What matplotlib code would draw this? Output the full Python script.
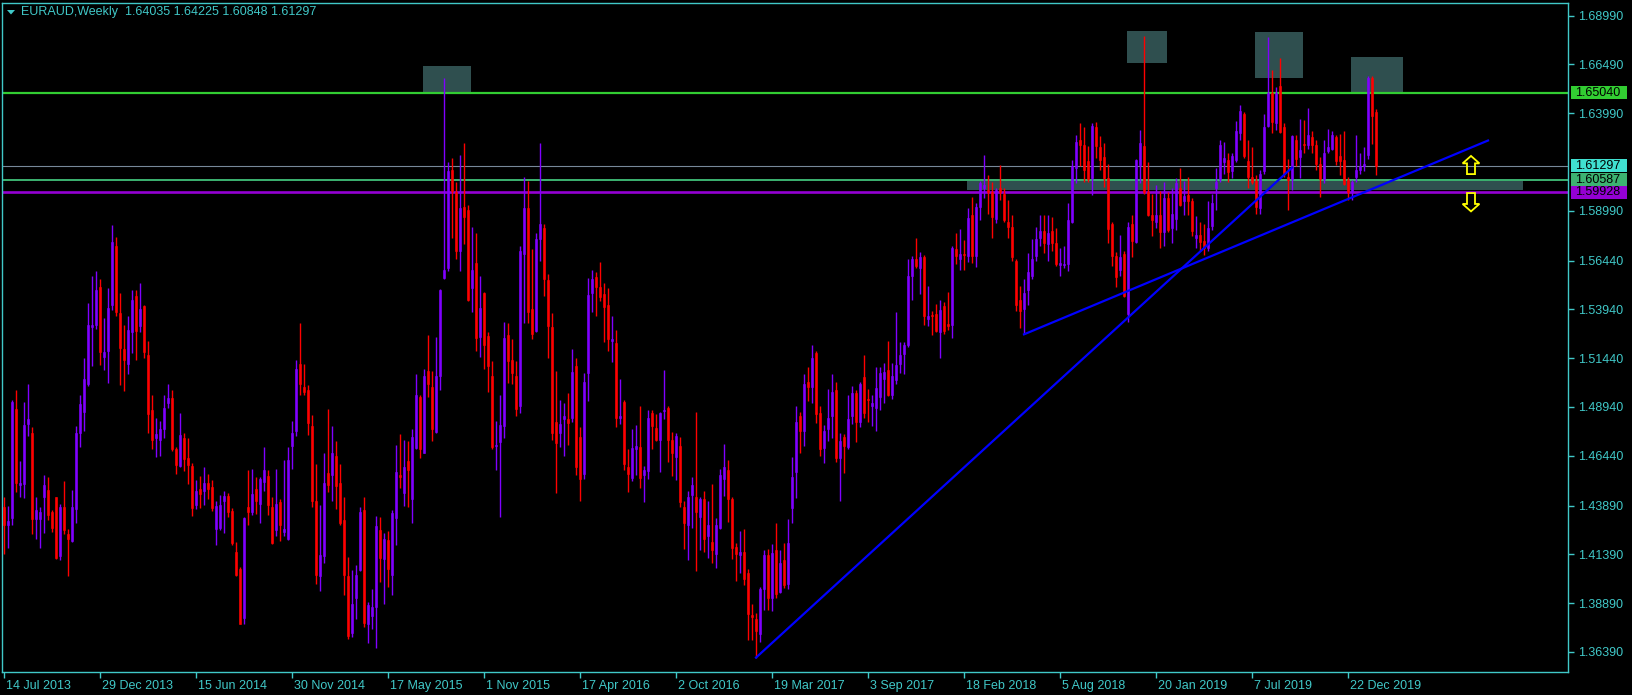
import numpy as np
import matplotlib
matplotlib.use("Agg")
import matplotlib.pyplot as plt
import matplotlib.patches as mpatches
import matplotlib.transforms as mtransforms

plt.rcParams["font.family"] = ["Liberation Sans", "DejaVu Sans"]

# ── Data (weekly EURAUD candles, week 0 = 14 Jul 2013) ─────────────────────────
header_text = "EURAUD,Weekly  1.64035 1.64225 1.60848 1.61297"

opens = [
    1.4383, 1.4287, 1.4327, 1.4886, 1.4493, 1.4499, 1.4808, 1.4763, 1.4321, 1.4321,
    1.4432, 1.4470, 1.4354, 1.4432, 1.4131, 1.4383, 1.4242, 1.4209, 1.4370, 1.4763,
    1.4866, 1.5013, 1.5304, 1.5315, 1.5511, 1.5152, 1.5181, 1.5415, 1.5721, 1.5375,
    1.5192, 1.5114, 1.5277, 1.5460, 1.5308, 1.5409, 1.5158, 1.4879, 1.4734, 1.4727,
    1.4779, 1.4913, 1.4942, 1.4678, 1.4593, 1.4734, 1.4633, 1.4593, 1.4394, 1.4472,
    1.4466, 1.4504, 1.4484, 1.4271, 1.4276, 1.4410, 1.4437, 1.4361, 1.4153, 1.4064,
    1.3811, 1.4383, 1.4354, 1.4472, 1.4399, 1.4510, 1.4540, 1.4383, 1.4265, 1.4405,
    1.4254, 1.4220, 1.4694, 1.4772, 1.5114, 1.4995, 1.4980, 1.4794, 1.4414, 1.4030,
    1.4131, 1.4555, 1.4544, 1.4645, 1.4504, 1.4316, 1.4030, 1.3735, 1.3914, 1.4057,
    1.4365, 1.3784, 1.3822, 1.3867, 1.4265, 1.4115, 1.4213, 1.4035, 1.4327, 1.4544,
    1.4455, 1.4617, 1.4421, 1.4682, 1.4946, 1.4660, 1.5076, 1.4995, 1.4767, 1.5053,
    1.5554, 1.5605, 1.6108, 1.5996, 1.5694, 1.5916, 1.5902, 1.5505, 1.5632, 1.5254,
    1.5476, 1.5259, 1.5053, 1.4696, 1.4712, 1.4794, 1.5263, 1.5134, 1.5053, 1.4897,
    1.5679, 1.5911, 1.5397, 1.5281, 1.5755, 1.5813, 1.5542, 1.5304, 1.4817, 1.4763,
    1.4830, 1.4834, 1.4839, 1.5102, 1.4738, 1.4551, 1.5069, 1.5478, 1.5560, 1.5511,
    1.5471, 1.5415, 1.5232, 1.5221, 1.4839, 1.4917, 1.4589, 1.4528, 1.4678, 1.4689,
    1.4544, 1.4566, 1.4861, 1.4785, 1.4723, 1.4875, 1.4890, 1.4723, 1.4638, 1.4696,
    1.4383, 1.4287, 1.4443, 1.4432, 1.4332, 1.4421, 1.4231, 1.4204, 1.4142, 1.4276,
    1.4526, 1.4571, 1.4421, 1.4175, 1.4135, 1.4153, 1.4041, 1.3829, 1.3807, 1.3729,
    1.3959, 1.4137, 1.3914, 1.4160, 1.3945, 1.4108, 1.3985, 1.4376, 1.4561, 1.4846,
    1.4772, 1.5024, 1.4995, 1.5170, 1.4861, 1.4682, 1.4779, 1.4846, 1.4980, 1.4633,
    1.4741, 1.4689, 1.4846, 1.4964, 1.4817, 1.5046, 1.4935, 1.4897, 1.4890, 1.4946,
    1.5035, 1.5085, 1.4957, 1.5031, 1.5114, 1.5165, 1.5214, 1.5567, 1.5650, 1.5605,
    1.5661, 1.5343, 1.5366, 1.5371, 1.5277, 1.5411, 1.5321, 1.5315, 1.5701, 1.5650,
    1.5679, 1.5665, 1.5880, 1.5665, 1.5918, 1.6018, 1.6007, 1.5996, 1.5857, 1.6014,
    1.5985, 1.5844, 1.5817, 1.5643, 1.5442, 1.5397, 1.5493, 1.5567, 1.5665, 1.5761,
    1.5795, 1.5728, 1.5795, 1.5732, 1.5621, 1.5621, 1.5627, 1.5840, 1.6119, 1.6260,
    1.6237, 1.6152, 1.6068, 1.6327, 1.6224, 1.6175, 1.6068, 1.5829, 1.5665, 1.5594,
    1.5679, 1.5371, 1.5829, 1.5739, 1.6134, 1.6231, 1.5996, 1.5880, 1.5840, 1.5880,
    1.5791, 1.5962, 1.5813, 1.5857, 1.6014, 1.5951, 1.5978, 1.5947, 1.5761, 1.5773,
    1.5746, 1.5706, 1.5822, 1.6014, 1.6063, 1.6148, 1.6159, 1.6103, 1.6157, 1.6298,
    1.6394, 1.6152, 1.6074, 1.6052, 1.5911, 1.6103, 1.6331, 1.6505, 1.6349, 1.6537,
    1.6327, 1.6074, 1.6063, 1.6260, 1.6175, 1.6242, 1.6237, 1.6275, 1.6237, 1.6141,
    1.6063, 1.6204, 1.6215, 1.6275, 1.6179, 1.6157, 1.6059, 1.5996, 1.6074, 1.6108,
    1.6126, 1.6186, 1.6581, 1.64035,
]

highs = [
    1.4432, 1.4388, 1.4928, 1.4980, 1.4615, 1.4919, 1.5013, 1.4790, 1.4432, 1.4381,
    1.4548, 1.4537, 1.4365, 1.4432, 1.4399, 1.4515, 1.4271, 1.4470, 1.4794, 1.4957,
    1.5147, 1.5426, 1.5567, 1.5589, 1.5549, 1.5348, 1.5505, 1.5824, 1.5764, 1.5478,
    1.5315, 1.5359, 1.5493, 1.5493, 1.5531, 1.5415, 1.5232, 1.4957, 1.4839, 1.4823,
    1.4957, 1.5013, 1.4980, 1.4689, 1.4861, 1.4763, 1.4734, 1.4606, 1.4522, 1.4539,
    1.4584, 1.4551, 1.4522, 1.4414, 1.4443, 1.4466, 1.4455, 1.4376, 1.4202, 1.4075,
    1.4332, 1.4571, 1.4577, 1.4537, 1.4533, 1.4689, 1.4571, 1.4432, 1.4577, 1.4421,
    1.4622, 1.4689, 1.4823, 1.5136, 1.5326, 1.5114, 1.5009, 1.4852, 1.4600, 1.4392,
    1.4656, 1.4884, 1.4794, 1.4718, 1.4600, 1.4432, 1.4124, 1.4057, 1.4086, 1.4381,
    1.4432, 1.3896, 1.3963, 1.4338, 1.4332, 1.4249, 1.4258, 1.4365, 1.4701, 1.4756,
    1.4723, 1.4718, 1.4779, 1.5062, 1.4957, 1.5091, 1.5263, 1.5080, 1.5254, 1.5500,
    1.6577, 1.6148, 1.6170, 1.6045, 1.6186, 1.6246, 1.5929, 1.5817, 1.5784, 1.5567,
    1.5482, 1.5277, 1.5129, 1.4823, 1.4957, 1.5330, 1.5326, 1.5241, 1.5129, 1.5717,
    1.6074, 1.6052, 1.5701, 1.5784, 1.6248, 1.5829, 1.5576, 1.5375, 1.5076, 1.4928,
    1.4913, 1.4964, 1.5192, 1.5147, 1.4790, 1.5069, 1.5556, 1.5598, 1.5583, 1.5639,
    1.5531, 1.5505, 1.5359, 1.5288, 1.5035, 1.4928, 1.4678, 1.4779, 1.4801, 1.4897,
    1.4593, 1.4879, 1.4879, 1.4857, 1.4868, 1.5085, 1.4901, 1.4767, 1.4763, 1.4738,
    1.4414, 1.4466, 1.4533, 1.4868, 1.4432, 1.4466, 1.4410, 1.4499, 1.4325, 1.4577,
    1.4705, 1.4622, 1.4432, 1.4198, 1.4258, 1.4271, 1.4064, 1.3885, 1.3840, 1.3974,
    1.4160, 1.4164, 1.4191, 1.4298, 1.4160, 1.4198, 1.4321, 1.4638, 1.4897, 1.4868,
    1.5062, 1.5098, 1.5214, 1.5181, 1.4897, 1.4801, 1.4986, 1.5062, 1.5024, 1.4763,
    1.4756, 1.4957, 1.5002, 1.4980, 1.5024, 1.5158, 1.4984, 1.4957, 1.5098, 1.5098,
    1.5120, 1.5232, 1.5120, 1.5382, 1.5225, 1.5225, 1.5650, 1.5665, 1.5761, 1.5690,
    1.5672, 1.5516, 1.5388, 1.5420, 1.5442, 1.5433, 1.5482, 1.5721, 1.5784, 1.5806,
    1.5750, 1.5911, 1.5969, 1.5940, 1.6052, 1.6186, 1.6081, 1.6045, 1.6018, 1.6134,
    1.6014, 1.5956, 1.5880, 1.5650, 1.5516, 1.5549, 1.5683, 1.5755, 1.5817, 1.5880,
    1.5880, 1.5880, 1.5867, 1.5813, 1.5710, 1.5717, 1.5940, 1.6157, 1.6286, 1.6349,
    1.6327, 1.6231, 1.6349, 1.6353, 1.6282, 1.6246, 1.6141, 1.5844, 1.5688, 1.5773,
    1.5694, 1.5840, 1.5880, 1.6164, 1.6313, 1.6796, 1.6148, 1.5985, 1.6030, 1.6001,
    1.6045, 1.5996, 1.6014, 1.6068, 1.6119, 1.6052, 1.6074, 1.5962, 1.5873, 1.5844,
    1.5829, 1.5951, 1.5985, 1.6119, 1.6260, 1.6253, 1.6193, 1.6193, 1.6358, 1.6443,
    1.6403, 1.6260, 1.6224, 1.6081, 1.6108, 1.6394, 1.6789, 1.6622, 1.6532, 1.6684,
    1.6349, 1.6164, 1.6286, 1.6286, 1.6371, 1.6365, 1.6425, 1.6309, 1.6264, 1.6175,
    1.6264, 1.6320, 1.6309, 1.6286, 1.6291, 1.6309, 1.6074, 1.6059, 1.6286, 1.6197,
    1.6224, 1.6588, 1.6588, 1.64225,
]

lows = [
    1.4142, 1.4169, 1.4287, 1.4459, 1.4432, 1.4426, 1.4745, 1.4242, 1.4216, 1.4169,
    1.4249, 1.4316, 1.4254, 1.4115, 1.4108, 1.4242, 1.4030, 1.4200, 1.4298, 1.4689,
    1.4772, 1.5002, 1.5102, 1.5292, 1.5107, 1.5085, 1.5018, 1.5393, 1.5359, 1.5009,
    1.4975, 1.5062, 1.5169, 1.5136, 1.5277, 1.5147, 1.4763, 1.4678, 1.4640, 1.4645,
    1.4734, 1.4890, 1.4667, 1.4551, 1.4589, 1.4566, 1.4499, 1.4338, 1.4370, 1.4376,
    1.4392, 1.4421, 1.4361, 1.4186, 1.4265, 1.4249, 1.4332, 1.4186, 1.4030, 1.3780,
    1.3784, 1.4287, 1.4343, 1.4347, 1.4298, 1.4466, 1.4343, 1.4191, 1.4231, 1.4209,
    1.4231, 1.4213, 1.4577, 1.4745, 1.4957, 1.4957, 1.4749, 1.4383, 1.3985, 1.3952,
    1.4093, 1.4459, 1.4410, 1.4370, 1.4290, 1.3929, 1.3706, 1.3717, 1.3807, 1.4052,
    1.3767, 1.3684, 1.3757, 1.3657, 1.3997, 1.3885, 1.3974, 1.3929, 1.4186, 1.4477,
    1.4388, 1.4383, 1.4298, 1.4678, 1.4633, 1.4656, 1.4946, 1.4718, 1.4760, 1.4980,
    1.5549, 1.5589, 1.5761, 1.5650, 1.5589, 1.5728, 1.5437, 1.5382, 1.5181, 1.5152,
    1.5091, 1.4973, 1.4678, 1.4571, 1.4332, 1.4734, 1.5018, 1.5013, 1.4846, 1.4861,
    1.5326, 1.5326, 1.5241, 1.5277, 1.5643, 1.5460, 1.5147, 1.4727, 1.4455, 1.4689,
    1.4645, 1.4701, 1.4817, 1.4544, 1.4414, 1.4526, 1.4924, 1.5382, 1.5359, 1.5437,
    1.5225, 1.5181, 1.5125, 1.4790, 1.4808, 1.4571, 1.4459, 1.4517, 1.4548, 1.4477,
    1.4405, 1.4526, 1.4678, 1.4718, 1.4562, 1.4830, 1.4611, 1.4540, 1.4522, 1.4383,
    1.4164, 1.4108, 1.4276, 1.4052, 1.4160, 1.4153, 1.4120, 1.4093, 1.4070, 1.4271,
    1.4437, 1.4303, 1.4115, 1.4003, 1.4041, 1.3981, 1.3700, 1.3700, 1.3606, 1.3690,
    1.3856, 1.3856, 1.3847, 1.3914, 1.3941, 1.3968, 1.3963, 1.4298, 1.4428, 1.4656,
    1.4696, 1.4924, 1.4913, 1.4812, 1.4645, 1.4606, 1.4718, 1.4734, 1.4611, 1.4410,
    1.4555, 1.4678, 1.4808, 1.4712, 1.4790, 1.4839, 1.4817, 1.4794, 1.4772, 1.4879,
    1.4913, 1.4950, 1.4935, 1.5013, 1.5069, 1.5062, 1.5203, 1.5442, 1.5605, 1.5471,
    1.5315, 1.5308, 1.5263, 1.5277, 1.5143, 1.5270, 1.5286, 1.5248, 1.5627, 1.5594,
    1.5598, 1.5639, 1.5634, 1.5612, 1.5851, 1.5962, 1.5884, 1.5761, 1.5835, 1.5956,
    1.5840, 1.5761, 1.5643, 1.5388, 1.5299, 1.5266, 1.5415, 1.5549, 1.5643, 1.5717,
    1.5683, 1.5643, 1.5694, 1.5616, 1.5567, 1.5605, 1.5589, 1.5835, 1.6041, 1.6130,
    1.6045, 1.6045, 1.5978, 1.6170, 1.6108, 1.6023, 1.5732, 1.5616, 1.5509, 1.5567,
    1.5455, 1.5330, 1.5661, 1.5732, 1.6041, 1.5985, 1.5873, 1.5768, 1.5813, 1.5706,
    1.5717, 1.5791, 1.5732, 1.5799, 1.5925, 1.5880, 1.5880, 1.5768, 1.5706, 1.5694,
    1.5672, 1.5694, 1.5799, 1.5902, 1.6045, 1.6090, 1.6045, 1.6068, 1.6148, 1.6260,
    1.6170, 1.6018, 1.6036, 1.5884, 1.5884, 1.6085, 1.6327, 1.6298, 1.6313, 1.6298,
    1.6074, 1.5902, 1.6007, 1.6126, 1.6068, 1.6197, 1.6215, 1.6197, 1.6108, 1.5969,
    1.6041, 1.6197, 1.6208, 1.6135, 1.6081, 1.6030, 1.5956, 1.5956, 1.6045, 1.6085,
    1.6103, 1.6164, 1.6242, 1.60848,
]

closes = [
    1.4287, 1.4309, 1.4919, 1.4504, 1.4504, 1.4801, 1.4834, 1.4321, 1.4365, 1.4354,
    1.4495, 1.4343, 1.4276, 1.4120, 1.4383, 1.4265, 1.4220, 1.4383, 1.4763, 1.4908,
    1.5035, 1.5315, 1.5315, 1.5493, 1.5174, 1.5174, 1.5402, 1.5737, 1.5382, 1.5198,
    1.5136, 1.5288, 1.5444, 1.5281, 1.5397, 1.5174, 1.4857, 1.4727, 1.4756, 1.4779,
    1.4890, 1.4942, 1.4678, 1.4598, 1.4749, 1.4629, 1.4598, 1.4376, 1.4466, 1.4450,
    1.4504, 1.4472, 1.4376, 1.4388, 1.4392, 1.4437, 1.4354, 1.4198, 1.4035, 1.3784,
    1.4325, 1.4354, 1.4450, 1.4410, 1.4526, 1.4571, 1.4394, 1.4198, 1.4399, 1.4287,
    1.4271, 1.4622, 1.4763, 1.5091, 1.5013, 1.4973, 1.4812, 1.4414, 1.4035, 1.4135,
    1.4504, 1.4495, 1.4660, 1.4488, 1.4298, 1.4035, 1.3722, 1.3885, 1.4035, 1.4354,
    1.3789, 1.3879, 1.3867, 1.4283, 1.4120, 1.4220, 1.4064, 1.4350, 1.4561, 1.4533,
    1.4589, 1.4573, 1.4738, 1.4957, 1.4678, 1.5053, 1.5013, 1.4779, 1.5053, 1.5493,
    1.5594, 1.6103, 1.6001, 1.5694, 1.5911, 1.5868, 1.5442, 1.5598, 1.5248, 1.5402,
    1.5210, 1.5102, 1.4689, 1.4701, 1.4801, 1.5248, 1.5129, 1.5069, 1.4886, 1.5694,
    1.5911, 1.5382, 1.5270, 1.5757, 1.5833, 1.5549, 1.5308, 1.4763, 1.4709, 1.4805,
    1.4846, 1.4812, 1.5073, 1.4589, 1.4526, 1.5024, 1.5466, 1.5549, 1.5511, 1.5455,
    1.5404, 1.5241, 1.5241, 1.4839, 1.4846, 1.4600, 1.4551, 1.4685, 1.4696, 1.4528,
    1.4571, 1.4839, 1.4794, 1.4723, 1.4861, 1.4879, 1.4727, 1.4656, 1.4745, 1.4405,
    1.4298, 1.4432, 1.4495, 1.4354, 1.4421, 1.4220, 1.4287, 1.4160, 1.4287, 1.4544,
    1.4589, 1.4421, 1.4169, 1.4142, 1.4153, 1.4012, 1.3834, 1.3818, 1.3744, 1.3963,
    1.4137, 1.3914, 1.4146, 1.3936, 1.4097, 1.3981, 1.4198, 1.4533, 1.4817, 1.4772,
    1.5013, 1.4995, 1.5143, 1.4857, 1.4678, 1.4772, 1.4839, 1.4973, 1.4633, 1.4718,
    1.4696, 1.4834, 1.4964, 1.4817, 1.5013, 1.4861, 1.4928, 1.4913, 1.4991, 1.5069,
    1.5073, 1.4957, 1.5053, 1.5107, 1.5158, 1.5210, 1.5567, 1.5654, 1.5616, 1.5661,
    1.5359, 1.5359, 1.5359, 1.5281, 1.5393, 1.5281, 1.5308, 1.5710, 1.5665, 1.5679,
    1.5670, 1.5862, 1.5665, 1.5918, 1.6041, 1.6030, 1.5996, 1.5867, 1.6007, 1.5996,
    1.5851, 1.5817, 1.5661, 1.5415, 1.5388, 1.5478, 1.5583, 1.5650, 1.5755, 1.5795,
    1.5732, 1.5784, 1.5732, 1.5627, 1.5632, 1.5627, 1.5851, 1.6126, 1.6253, 1.6237,
    1.6108, 1.6063, 1.6331, 1.6231, 1.6157, 1.6068, 1.5806, 1.5665, 1.5560, 1.5661,
    1.5464, 1.5817, 1.5746, 1.6157, 1.6246, 1.5996, 1.5880, 1.5851, 1.5880, 1.5791,
    1.5962, 1.5799, 1.5884, 1.6041, 1.5929, 1.5973, 1.5947, 1.5795, 1.5773, 1.5739,
    1.5706, 1.5813, 1.5940, 1.6045, 1.6237, 1.6170, 1.6097, 1.6179, 1.6309, 1.6409,
    1.6179, 1.6074, 1.6045, 1.5918, 1.6090, 1.6327, 1.6505, 1.6353, 1.6505, 1.6304,
    1.6090, 1.6059, 1.6282, 1.6164, 1.6208, 1.6237, 1.6286, 1.6237, 1.6141, 1.6063,
    1.6197, 1.6224, 1.6286, 1.6152, 1.6152, 1.6036, 1.5996, 1.6045, 1.6108, 1.6130,
    1.6141, 1.6581, 1.6387, 1.61297,
]

date_labels = [
    "14 Jul 2013", "29 Dec 2013", "15 Jun 2014", "30 Nov 2014", "17 May 2015",
    "1 Nov 2015", "17 Apr 2016", "2 Oct 2016", "19 Mar 2017", "3 Sep 2017",
    "18 Feb 2018", "5 Aug 2018", "20 Jan 2019", "7 Jul 2019", "22 Dec 2019",
]
date_tick_weeks = [0, 24, 48, 72, 96, 120, 144, 168, 192, 216, 240, 264, 288, 312, 336]

price_ticks = [1.68990, 1.66490, 1.63990, 1.58990, 1.56440, 1.53940, 1.51440,
               1.48940, 1.46440, 1.43890, 1.41390, 1.38890, 1.36390]

# horizontal levels: price, line colour, label box colour, line width
level_prices = [1.65040, 1.61297, 1.60587, 1.59928]
level_line_colors = ["#32CD32", "#778899", "#3CB371", "#9400D3"]
level_box_colors = ["#32CD32", "#40E0D0", "#3CB371", "#9400D3"]
level_widths = [1.6, 0.8, 1.4, 1.9]

# dark rectangles (week from, week to, low, high)
box_week_from = [104.75, 280.75, 312.75, 336.75, 240.75]
box_week_to = [116.75, 290.75, 324.75, 349.75, 379.75]
box_low = [1.6505, 1.6655, 1.6577, 1.6505, 1.6004]
box_high = [1.6639, 1.6820, 1.6814, 1.6686, 1.6051]

# trend lines
trend_a_weeks = [188, 322]
trend_a_prices = [1.3610, 1.6120]
trend_b_weeks = [255, 371]
trend_b_prices = [1.5266, 1.6259]

# hollow arrows at the right
arrow_week = 366.75
up_arrow_low, up_arrow_high = 1.6087, 1.6180
down_arrow_high, down_arrow_low = 1.5990, 1.5896

# ── Style ─────────────────────────────────────────────────────────────────────
FG = "#40C8C8"
BULL = "#8000FF"
BEAR = "#FF0000"
BOX = "#2F4F4F"
FS = 9

W, H = 1633, 695
fig = plt.figure(figsize=(W / 100, H / 100), dpi=100, facecolor="black")
ax = fig.add_axes([2 / W, 23 / H, 1566 / W, 669 / H], facecolor="black")

ax.set_xlim(-0.5, 391)
ax.set_ylim(1.35363, 1.69635)

# ── Rectangles + levels ───────────────────────────────────────────────────────
for x0, x1, lo, hi in zip(box_week_from, box_week_to, box_low, box_high):
    ax.add_patch(mpatches.Rectangle((x0, lo), x1 - x0, hi - lo,
                                    facecolor=BOX, edgecolor="none", zorder=1))

for p, c, lw in zip(level_prices, level_line_colors, level_widths):
    ax.axhline(p, color=c, lw=lw, zorder=2)

# ── Candles ───────────────────────────────────────────────────────────────────
o = np.array(opens)
hi = np.array(highs)
lo = np.array(lows)
cl = np.array(closes)
x = np.arange(len(cl))
cols = np.where(cl >= o, BULL, BEAR)

ax.vlines(x, lo, hi, colors=cols, linewidth=1.0, zorder=3)
body_bottom = np.minimum(o, cl)
body_height = np.maximum(np.abs(cl - o), 0.0004)
ax.bar(x, body_height, bottom=body_bottom, width=0.72, color=cols,
       edgecolor=cols, linewidth=0.4, zorder=4)

# ── Trend lines ───────────────────────────────────────────────────────────────
ax.plot(trend_a_weeks, trend_a_prices, color="#0000FF", lw=1.6, zorder=5)
ax.plot(trend_b_weeks, trend_b_prices, color="#0000FF", lw=1.6, zorder=5)

# ── Arrows ────────────────────────────────────────────────────────────────────
head_len = 0.0038
head_hw, shaft_hw = 2.1, 1.0


def arrow_poly(cx, tail, tip):
    d = 1 if tip > tail else -1
    base = tip - d * head_len
    pts = [(cx - shaft_hw, tail), (cx - shaft_hw, base), (cx - head_hw, base),
           (cx, tip), (cx + head_hw, base), (cx + shaft_hw, base),
           (cx + shaft_hw, tail)]
    return mpatches.Polygon(pts, closed=True, facecolor="none",
                            edgecolor="#FFFF00", lw=1.3, zorder=6)


ax.add_patch(arrow_poly(arrow_week, up_arrow_low, up_arrow_high))
ax.add_patch(arrow_poly(arrow_week, down_arrow_high, down_arrow_low))

# ── Axes styling ──────────────────────────────────────────────────────────────
for s in ax.spines.values():
    s.set_color(FG)
    s.set_linewidth(1.0)

ax.yaxis.tick_right()
ax.set_yticks(price_ticks)
ax.set_yticklabels([f"{p:.5f}" for p in price_ticks])
ax.tick_params(axis="y", colors=FG, length=4, width=1, pad=3, labelsize=FS)

ax.set_xticks(date_tick_weeks)
ax.set_xticklabels(date_labels)
ax.tick_params(axis="x", colors=FG, length=4, width=1, pad=2, labelsize=FS)
offset = mtransforms.ScaledTranslation(2 / 100, 0, fig.dpi_scale_trans)
for lbl in ax.get_xticklabels():
    lbl.set_horizontalalignment("left")
    lbl.set_transform(lbl.get_transform() + offset)

# price label boxes on the right scale
trans = mtransforms.blended_transform_factory(ax.transAxes, ax.transData)
box_h = 13 / 1951.6
for p, c in zip(level_prices, level_box_colors):
    ax.add_patch(mpatches.Rectangle((1569 / 1566, p - box_h / 2), 56 / 1566, box_h,
                                    transform=trans, facecolor=c, edgecolor="none",
                                    clip_on=False, zorder=10))
    ax.text(1573 / 1566, p, f"{p:.5f}", transform=trans, color="black",
            fontsize=FS, va="center", ha="left", clip_on=False, zorder=11)

# ── Header ────────────────────────────────────────────────────────────────────
fig.patches.append(mpatches.Polygon([(7 / W, 1 - 10 / H), (15 / W, 1 - 10 / H),
                                     (11 / W, 1 - 14.5 / H)], closed=True,
                                    facecolor=FG, edgecolor="none",
                                    transform=fig.transFigure))
fig.text(21 / W, 1 - 12.5 / H, header_text, color=FG, fontsize=FS,
         va="center", ha="left")

fig.savefig("out.png", dpi=100, facecolor="black")
